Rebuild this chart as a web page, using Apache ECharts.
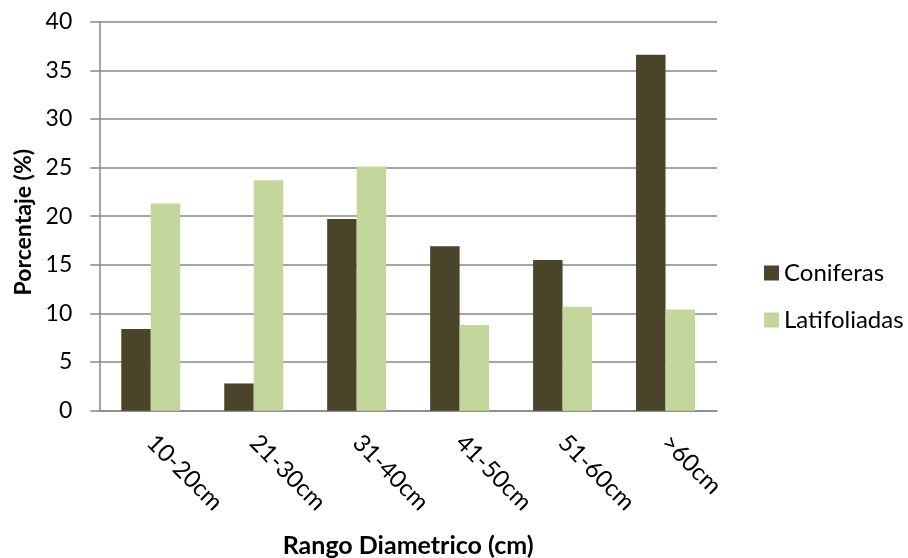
<!DOCTYPE html>
<html>
<head>
<meta charset="utf-8">
<script src="https://cdn.jsdelivr.net/npm/echarts@6/dist/echarts.min.js"></script>
<style>
  html, body { margin: 0; padding: 0; background: #ffffff; }
  #chart { width: 908px; height: 558px; }
</style>
</head>
<body>
<div id="chart"></div>
<script>
// Diameter classes and share of trees (%) per group
const categories = ['10-20cm', '21-30cm', '31-40cm', '41-50cm', '51-60cm', '>60cm'];
const coniferas = [8.4, 2.8, 19.7, 16.9, 15.5, 36.6];
const latifoliadas = [21.3, 23.7, 25.1, 8.8, 10.7, 10.4];
const yTicks = { min: 0, max: 40, interval: 5 };

const FONT = 'Lato, "Open Sans", sans-serif';
const GRID_GRAY = '#878787';

const chart = echarts.init(document.getElementById('chart'), null, { renderer: 'canvas' });

chart.setOption({
  animation: false,
  backgroundColor: '#ffffff',
  textStyle: { fontFamily: FONT, color: '#000000' },
  grid: {
    left: 99.3,
    right: 191,
    top: 21.7,
    bottom: 147.3,
    containLabel: false,
    outerBoundsMode: 'none'
  },
  legend: {
    orient: 'vertical',
    left: 759,
    top: 256,
    itemWidth: 15,
    itemHeight: 15,
    itemGap: 23,
    icon: 'rect',
    textStyle: { fontFamily: FONT, fontSize: 24, color: '#000000', lineHeight: 24 },
    data: ['Coniferas', 'Latifoliadas']
  },
  xAxis: {
    type: 'category',
    data: categories,
    name: 'Rango Diametrico (cm)',
    nameLocation: 'middle',
    nameGap: 123,
    nameTextStyle: { fontFamily: FONT, fontSize: 25, fontWeight: 'bold', color: '#000000' },
    axisLine: { show: true, lineStyle: { color: GRID_GRAY, width: 1.5 } },
    axisTick: { show: false },
    axisLabel: {
      rotate: -45,
      margin: 28,
      fontFamily: FONT,
      fontSize: 24,
      color: '#000000',
      interval: 0
    },
    splitLine: { show: false }
  },
  yAxis: {
    type: 'value',
    min: yTicks.min,
    max: yTicks.max,
    interval: yTicks.interval,
    name: 'Porcentaje (%)',
    nameLocation: 'middle',
    nameGap: 62,
    nameRotate: 90,
    nameTextStyle: {
      fontFamily: FONT,
      fontSize: 23,
      fontWeight: 'bold',
      color: '#000000',
      padding: [0, 12, 0, 0]
    },
    axisLine: { show: true, lineStyle: { color: GRID_GRAY, width: 1.5 } },
    axisTick: { show: true, inside: false, length: 9, lineStyle: { color: GRID_GRAY, width: 1.5 } },
    axisLabel: { margin: 27, fontFamily: FONT, fontSize: 23, color: '#000000' },
    splitLine: { show: true, lineStyle: { color: GRID_GRAY, width: 1.5 } }
  },
  series: [
    {
      name: 'Coniferas',
      type: 'bar',
      data: coniferas,
      barWidth: 29.5,
      barGap: '0%',
      itemStyle: { color: '#4A452A' }
    },
    {
      name: 'Latifoliadas',
      type: 'bar',
      data: latifoliadas,
      barWidth: 29.5,
      barGap: '0%',
      itemStyle: { color: '#C3D69B' }
    }
  ]
});
</script>
</body>
</html>
